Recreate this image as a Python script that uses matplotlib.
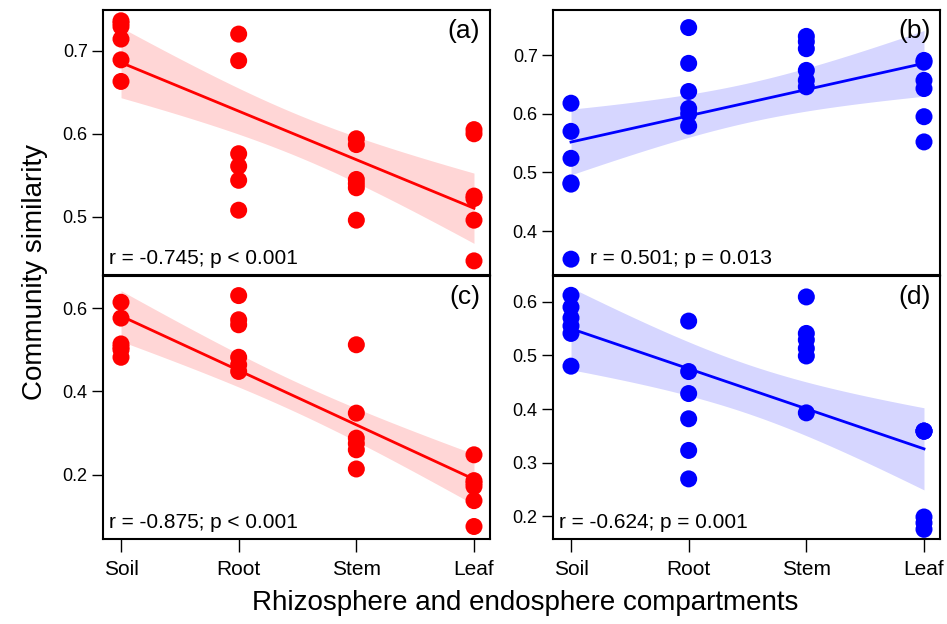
import numpy as np
import matplotlib
matplotlib.use("Agg")
import matplotlib.pyplot as plt

plt.rcParams['font.family'] = ['Liberation Sans', 'DejaVu Sans']

# compartments on the x axis
categories = ["Soil", "Root", "Stem", "Leaf"]

# community similarity values, one list per compartment
a_vals = [[0.736, 0.733, 0.729, 0.714, 0.689, 0.663],
          [0.720, 0.688, 0.576, 0.561, 0.544, 0.508],
          [0.594, 0.587, 0.545, 0.540, 0.535, 0.496],
          [0.605, 0.600, 0.525, 0.522, 0.496, 0.447]]
b_vals = [[0.618, 0.570, 0.524, 0.482, 0.480, 0.352],
          [0.747, 0.686, 0.638, 0.609, 0.600, 0.579],
          [0.732, 0.723, 0.711, 0.674, 0.657, 0.646],
          [0.691, 0.688, 0.657, 0.643, 0.595, 0.552]]
c_vals = [[0.614, 0.576, 0.514, 0.506, 0.500, 0.482],
          [0.630, 0.572, 0.560, 0.482, 0.464, 0.448],
          [0.512, 0.348, 0.288, 0.275, 0.260, 0.214],
          [0.248, 0.186, 0.180, 0.172, 0.138, 0.076]]
d_vals = [[0.612, 0.590, 0.570, 0.555, 0.541, 0.480],
          [0.564, 0.470, 0.429, 0.382, 0.323, 0.270],
          [0.609, 0.541, 0.529, 0.513, 0.499, 0.393],
          [0.359, 0.359, 0.359, 0.199, 0.188, 0.176]]

labels = ["(a)", "(b)", "(c)", "(d)"]
stats = ["r = -0.745; p < 0.001", "r = 0.501; p = 0.013",
         "r = -0.875; p < 0.001", "r = -0.624; p = 0.001"]

W, H = 947, 624
fig = plt.figure(figsize=(W / 100, H / 100), dpi=100)

def px_axes(left, top, right, bottom):
    return fig.add_axes([left / W, 1 - bottom / H, (right - left) / W, (bottom - top) / H])

panels = [
    (px_axes(103, 10, 490, 275), a_vals, "#FF0000", (0.430, 0.749), [0.5, 0.6, 0.7], False, 0.015),
    (px_axes(553, 10, 940, 275), b_vals, "#0000FF", (0.325, 0.777), [0.4, 0.5, 0.6, 0.7], False, 0.095),
    (px_axes(103, 276, 490, 539), c_vals, "#FF0000", (0.046, 0.677), [0.2, 0.4, 0.6], True, 0.015),
    (px_axes(553, 276, 940, 539), d_vals, "#0000FF", (0.158, 0.648), [0.2, 0.3, 0.4, 0.5, 0.6], True, 0.015),
]

for i, (ax, vals, col, ylim, yt, bottom, tx) in enumerate(panels):
    x = np.concatenate([np.full(len(v), k + 1.0) for k, v in enumerate(vals)])
    y = np.concatenate([np.array(v) for v in vals])
    ax.scatter(x, y, s=150, color=col, edgecolors="none", zorder=2)

    # linear fit with 95% confidence band
    n = len(x)
    slope, icpt = np.polyfit(x, y, 1)
    resid = y - (slope * x + icpt)
    s = np.sqrt(np.sum(resid ** 2) / (n - 2))
    xs = np.linspace(1, 4, 100)
    fit = slope * xs + icpt
    se = s * np.sqrt(1 / n + (xs - x.mean()) ** 2 / np.sum((x - x.mean()) ** 2))
    t = 2.07
    ax.fill_between(xs, fit - t * se, fit + t * se, color=col, alpha=0.16, lw=0, zorder=3)
    ax.plot(xs, fit, color=col, lw=2, zorder=4)

    ax.set_xlim(0.847, 4.136)
    ax.set_ylim(*ylim)
    ax.set_yticks(yt)
    ax.set_yticklabels([f"{v:.1f}" for v in yt], fontsize=13)
    ax.tick_params(axis="y", direction="out", length=8, width=1, pad=3)
    ax.set_xticks([1, 2, 3, 4])
    if bottom:
        ax.set_xticklabels(categories, fontsize=15)
        ax.tick_params(axis="x", direction="out", length=9, width=1, pad=6)
    else:
        ax.tick_params(axis="x", length=0, labelbottom=False)
    for sp in ax.spines.values():
        sp.set_linewidth(1.5)

    ax.text(0.975, 0.965, labels[i], transform=ax.transAxes, ha="right", va="top", fontsize=19, zorder=5)
    ax.text(tx, 0.025, stats[i], transform=ax.transAxes, ha="left", va="bottom", fontsize=15, zorder=5)

fig.text(35 / W, 1 - 272 / H, "Community similarity", rotation=90, ha="center", va="center", fontsize=20)
fig.text(525 / W, 1 - 603 / H, "Rhizosphere and endosphere compartments", ha="center", va="center", fontsize=20)

fig.savefig("out.png", dpi=100)
